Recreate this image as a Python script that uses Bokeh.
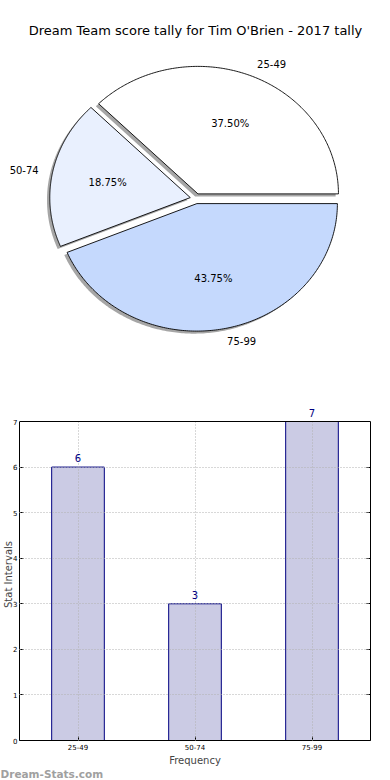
import numpy as np
from bokeh.plotting import figure
from bokeh.layouts import column, row
from bokeh.models import (Range1d, ColumnDataSource, Label, LabelSet, LinearAxis,
                          FixedTicker, Span, BoxAnnotation, Title)
from bokeh.core.properties import value
from bokeh.embed import file_html
from bokeh.resources import INLINE

# ---------------- data ----------------
TITLE = "Dream Team score tally for Tim O'Brien - 2017 tally"
categories = ["25-49", "50-74", "75-99"]
counts = [6, 3, 7]
pie_colors = ["#ffffff", "#e9f0fe", "#c5d9fd"]
y_ticks = [0, 1, 2, 3, 4, 5, 6, 7]
Y_MAX = 7
x_label = "Frequency"
y_label = "Stat Intervals"
watermark = "Dream-Stats.com"

FONT = "DejaVu Sans"

# ---------------- layout geometry (px) ----------------
W = 390
PIE_H = 398
FRAME_L, FRAME_R = 19, 370
FRAME_TOP, SPINE_TOP, BAR_BOTTOM, TOTAL_H = 408, 421, 740, 780

# ---------------- pie ----------------
EXPLODE = 0.04
LABEL_DIST = 1.1
PCT_DIST = 0.6
SHADOW_DX, SHADOW_DY = -0.02, -0.02
RX, RY = 140.5, 127.5       # px per unit radius (elliptical pie)
CX, CY = 195.3, 198.1       # pie centre in px

pie = figure(frame_width=W, frame_height=PIE_H, min_border=0,
             x_range=Range1d(-CX / RX, (W - CX) / RX),
             y_range=Range1d((CY - PIE_H) / RY, CY / RY),
             output_backend="svg", toolbar_location=None,
             x_axis_type=None, y_axis_type=None)
pie.outline_line_color = None

total = float(sum(counts))
fracs = np.array(counts, dtype=float) / total
ends = np.cumsum(fracs) * 2 * np.pi
starts = np.concatenate([[0.0], ends[:-1]])
mids = (starts + ends) / 2

xs, ys, sxs, sys_ = [], [], [], []
for a0, a1, m in zip(starts, ends, mids):
    ox, oy = EXPLODE * np.cos(m), EXPLODE * np.sin(m)
    t = np.linspace(a0, a1, 200)
    px = np.concatenate([[ox], ox + np.cos(t), [ox]])
    py = np.concatenate([[oy], oy + np.sin(t), [oy]])
    xs.append(list(px)); ys.append(list(py))
    sxs.append(list(px + SHADOW_DX)); sys_.append(list(py + SHADOW_DY))

pie.patches(xs=sxs, ys=sys_, fill_color="#4d4d4d", fill_alpha=0.5, line_color=None)
pie.patches(xs=xs, ys=ys, fill_color=pie_colors, line_color="black", line_width=0.9)

for cat, f, m in zip(categories, fracs, mids):
    lx = (EXPLODE + LABEL_DIST) * np.cos(m)
    ly = (EXPLODE + LABEL_DIST) * np.sin(m)
    pie.add_layout(Label(x=lx, y=ly, text=cat, text_align="left" if lx > 0 else "right",
                         text_baseline="middle", text_font=FONT, text_font_size="10px",
                         text_color="black"))
    pctx = (EXPLODE + PCT_DIST) * np.cos(m)
    pcty = (EXPLODE + PCT_DIST) * np.sin(m)
    pie.add_layout(Label(x=pctx, y=pcty, text="%.2f%%" % (f * 100), text_align="center",
                         text_baseline="middle", text_font=FONT, text_font_size="10px",
                         text_color="black"))

pie.add_layout(Label(x=(195 - CX) / RX, y=(CY - 30) / RY, text=TITLE,
                     text_align="center", text_baseline="middle",
                     text_font=FONT, text_font_size="13px", text_color="black"))

# ---------------- bar ----------------
NAVY = "#000080"
positions = list(range(len(categories)))
y_top = Y_MAX * (BAR_BOTTOM - FRAME_TOP) / (BAR_BOTTOM - SPINE_TOP)
bar = figure(x_range=Range1d(-0.5, len(categories) - 0.5), y_range=Range1d(0, y_top),
             frame_width=FRAME_R - FRAME_L, frame_height=BAR_BOTTOM - FRAME_TOP,
             min_border_left=FRAME_L, min_border_right=W - FRAME_R,
             min_border_top=FRAME_TOP - PIE_H, min_border_bottom=TOTAL_H - BAR_BOTTOM,
             output_backend="svg", toolbar_location=None)
bar.outline_line_color = None

src = ColumnDataSource(dict(x=positions, top=counts, lab=[str(c) for c in counts]))
bar.vbar(x="x", top="top", width=0.45, source=src, fill_color="#cbcbe4",
         line_color=NAVY, line_width=1)

for g in bar.grid:
    g.grid_line_color = "#b0b0b0"
    g.grid_line_dash = "1 2"
    g.grid_line_width = 1
    g.level = "guide"
bar.ygrid.ticker = FixedTicker(ticks=y_ticks)
bar.xgrid.ticker = FixedTicker(ticks=positions)

# blank the strip above the top spine, then draw the top spine
bar.add_layout(BoxAnnotation(bottom=Y_MAX, fill_color="white", fill_alpha=1,
                             line_color=None))
bar.add_layout(Span(location=Y_MAX, dimension="width", line_color="black", line_width=1))

bar.add_layout(LabelSet(x="x", y="top", text="lab", source=src, text_align="center",
                        text_baseline="alphabetic", y_offset=5,
                        text_font=value(FONT), text_font_size="10px", text_color=NAVY))

left = bar.left[0]
bottom = bar.below[0]
left.ticker = FixedTicker(ticks=y_ticks)
bottom.ticker = FixedTicker(ticks=positions)
bottom.major_label_overrides = {p: c for p, c in zip(positions, categories)}
right = LinearAxis(ticker=FixedTicker(ticks=y_ticks), major_label_text_alpha=0,
                   major_label_text_font_size="1px")
bar.add_layout(right, "right")

for ax in (left, bottom, right):
    ax.major_label_text_font = FONT
    ax.major_label_text_color = "black"
    ax.major_tick_in = 4
    ax.major_tick_out = 0
    ax.minor_tick_line_color = None
    ax.axis_line_color = "black"
    ax.major_tick_line_color = "black"
left.bounds = (0, Y_MAX)
right.bounds = (0, Y_MAX)
left.major_label_text_font_size = "7px"
bottom.major_label_text_font_size = "7px"
right.major_label_text_font_size = "1px"
right.major_label_standoff = 0
left.major_label_standoff = 2
bottom.major_label_standoff = 3

left.axis_label = y_label
left.axis_label_text_font = FONT
left.axis_label_text_font_size = "10px"
left.axis_label_text_font_style = "normal"
left.axis_label_standoff = -4

bottom.axis_label = x_label
bottom.axis_label_text_font = FONT
bottom.axis_label_text_font_size = "10px"
bottom.axis_label_text_font_style = "normal"
bottom.axis_label_standoff = 2

bar.add_layout(Title(text=watermark, align="left", offset=-FRAME_L, standoff=-5,
                     text_font=FONT, text_font_size="10.5px", text_font_style="bold",
                     text_color="#a0a0a0"), "below")

layout = column(row(pie), bar, spacing=0)
open("out.html", "w").write(file_html(layout, INLINE))
